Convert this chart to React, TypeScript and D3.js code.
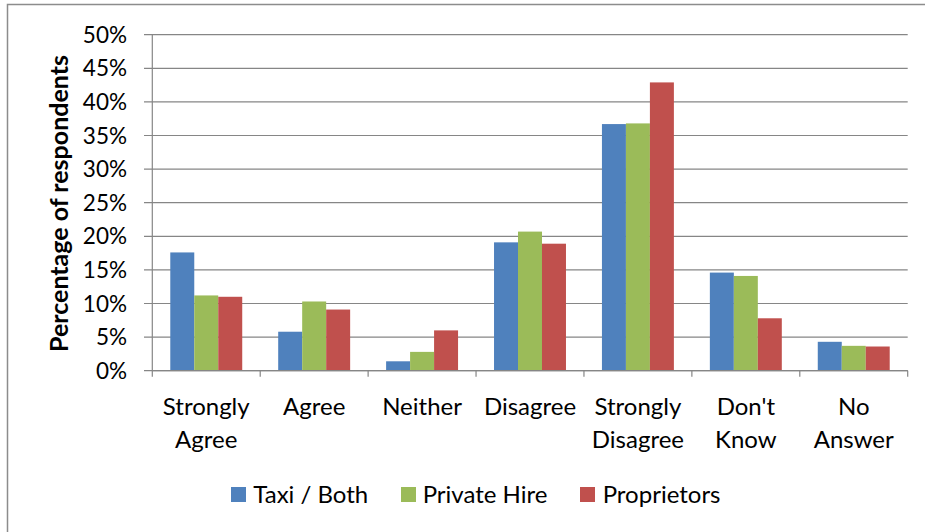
import React from "react";
import * as d3 from "d3";

const categories = [
  ["Strongly", "Agree"],
  ["Agree"],
  ["Neither"],
  ["Disagree"],
  ["Strongly", "Disagree"],
  ["Don't", "Know"],
  ["No", "Answer"],
];
const categoryKeys = categories.map((c) => c.join(" "));
const seriesNames = ["Taxi / Both", "Private Hire", "Proprietors"];
const taxiBoth = [17.6, 5.8, 1.4, 19.1, 36.7, 14.6, 4.3];
const privateHire = [11.2, 10.3, 2.8, 20.7, 36.8, 14.1, 3.7];
const proprietors = [11.0, 9.1, 6.0, 18.9, 42.9, 7.8, 3.6];
const seriesValues = [taxiBoth, privateHire, proprietors];
const colors = ["#4F81BD", "#9BBB59", "#C0504D"];
const yTicks = [0, 5, 10, 15, 20, 25, 30, 35, 40, 45, 50];

const W = 925;
const H = 532;
const FONT = "Lato, 'Open Sans', sans-serif";

export default function App() {
  const left = 152.3;
  const right = 907.7;
  const top = 34.7;
  const bottom = 370.7;

  const x = d3.scaleBand<string>().domain(categoryKeys).range([left, right]).paddingInner(0).paddingOuter(0);
  const xs = d3.scaleBand<string>().domain(seriesNames).range([0, x.bandwidth()]).paddingInner(0).paddingOuter(0.75);
  const y = d3.scaleLinear().domain([0, 50]).range([bottom, top]);

  const boundaries = categoryKeys.map((k) => x(k) as number).concat([right]);

  const legendItems = [
    { name: seriesNames[0], sx: 231, tx: 253.3 },
    { name: seriesNames[1], sx: 401, tx: 422.7 },
    { name: seriesNames[2], sx: 580, tx: 602.7 },
  ];

  return (
    <svg
      width={W}
      height={H}
      style={{ position: "absolute", left: 0, top: 0, background: "#fff" }}
      fontFamily={FONT}
    >
      <rect x={7.5} y={4.5} width={930} height={540} fill="#fff" stroke="#8c8c8c" strokeWidth={1.5} />
      {/* gridlines */}
      {yTicks.map((t) => (
        <line key={"g" + t} x1={144} x2={right} y1={y(t)} y2={y(t)} stroke="#868686" strokeWidth={1.2} />
      ))}
      {/* bars */}
      {seriesValues.map((vals, si) =>
        vals.map((v, ci) => (
          <rect
            key={si + "-" + ci}
            x={(x(categoryKeys[ci]) as number) + (xs(seriesNames[si]) as number)}
            y={y(v)}
            width={xs.bandwidth()}
            height={y(0) - y(v)}
            fill={colors[si]}
          />
        ))
      )}
      {/* y axis */}
      <line x1={left} x2={left} y1={top} y2={bottom} stroke="#868686" strokeWidth={1.2} />
      {/* x axis */}
      <line x1={left} x2={right} y1={bottom} y2={bottom} stroke="#868686" strokeWidth={1.2} />
      {boundaries.map((bx, i) => (
        <line key={"t" + i} x1={bx} x2={bx} y1={bottom} y2={bottom + 6} stroke="#868686" strokeWidth={1.2} />
      ))}
      {/* y tick labels */}
      {yTicks.map((t) => (
        <text key={"yl" + t} x={127} y={y(t) + 8} textAnchor="end" fontSize={22.5} fill="#000">
          {t + "%"}
        </text>
      ))}
      {/* y title */}
      <text
        transform={`translate(67.5,203.5) rotate(-90)`}
        textAnchor="middle"
        fontSize={25}
        fontWeight="bold"
        fill="#000"
      >
        Percentage of respondents
      </text>
      {/* category labels */}
      {categories.map((lines, ci) => (
        <text
          key={"c" + ci}
          x={(x(categoryKeys[ci]) as number) + x.bandwidth() / 2}
          y={415}
          textAnchor="middle"
          fontSize={24}
          fill="#000"
        >
          {lines.map((l, li) => (
            <tspan key={li} x={(x(categoryKeys[ci]) as number) + x.bandwidth() / 2} dy={li === 0 ? 0 : 33}>
              {l}
            </tspan>
          ))}
        </text>
      ))}
      {/* legend */}
      {legendItems.map((it, i) => (
        <g key={"lg" + i}>
          <rect x={it.sx} y={487} width={15} height={15} fill={colors[i]} />
          <text x={it.tx} y={502.5} fontSize={24} fill="#000">
            {it.name}
          </text>
        </g>
      ))}
    </svg>
  );
}
